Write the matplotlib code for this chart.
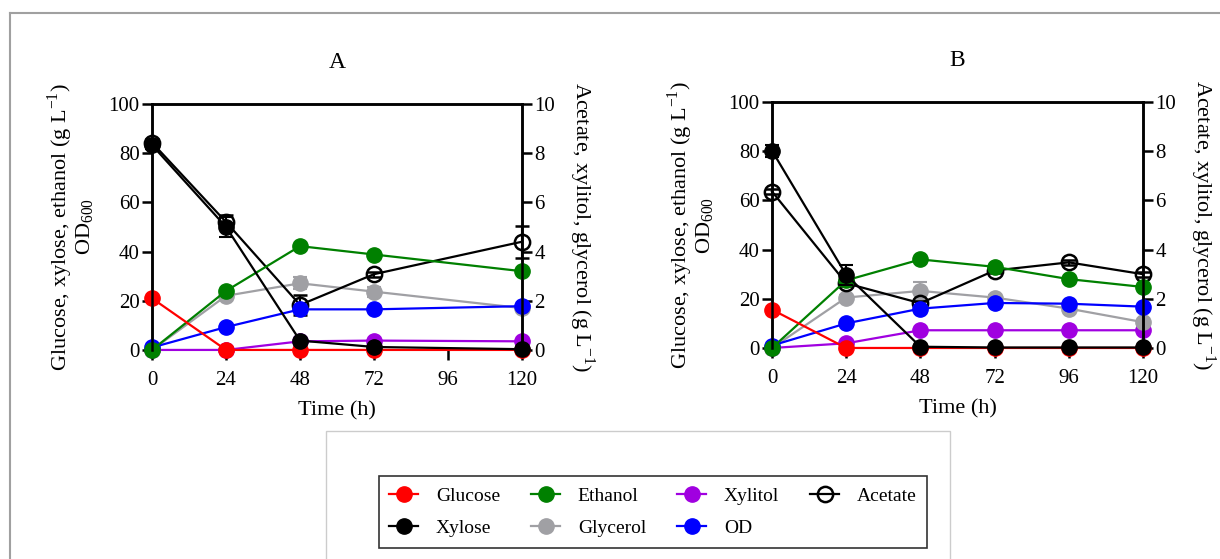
import numpy as np
import matplotlib.pyplot as plt
from matplotlib.lines import Line2D
from matplotlib.patches import Rectangle

plt.rcParams['font.family'] = ['Liberation Serif', 'DejaVu Serif']
plt.rcParams['mathtext.fontset'] = 'custom'
plt.rcParams['mathtext.rm'] = 'Liberation Serif'

# panel A (no sample at 96 h)
time_a = [0, 24, 48, 72, 120]
glucose_a = [21.0, 0.0, 0.0, 0.0, 0.0]
xylose_a = [83.3, 50.0, 3.8, 1.2, 0.3]
xylose_a_err = [1.5, 4.0, 0.5, 0.3, 0.2]
ethanol_a = [0.0, 24.0, 42.2, 38.8, 32.0]
od_a = [1.0, 9.3, 16.5, 16.5, 17.8]
acetate_a = [8.43, 5.2, 1.83, 3.08, 4.4]
acetate_a_err = [0.15, 0.3, 0.4, 0.1, 0.65]
glycerol_a = [0.0, 2.2, 2.71, 2.37, 1.7]
glycerol_a_err = [0.0, 0.1, 0.25, 0.2, 0.05]
xylitol_a = [0.0, 0.0, 0.35, 0.38, 0.35]

# panel B
time_b = [0, 24, 48, 72, 96, 120]
glucose_b = [15.6, 0.0, 0.0, 0.0, 0.0, 0.0]
xylose_b = [80.2, 29.7, 0.5, 0.2, 0.2, 0.2]
xylose_b_err = [2.5, 4.0, 0.3, 0.1, 0.1, 0.1]
ethanol_b = [0.0, 27.5, 36.0, 33.0, 28.0, 24.8]
od_b = [1.0, 10.0, 16.0, 18.3, 18.0, 16.8]
acetate_b = [6.36, 2.63, 1.82, 3.15, 3.48, 3.0]
acetate_b_err = [0.1, 0.1, 0.1, 0.1, 0.1, 0.1]
glycerol_b = [0.0, 2.05, 2.32, 2.05, 1.6, 1.05]
glycerol_b_err = [0.0, 0.1, 0.35, 0.1, 0.1, 0.05]
xylitol_b = [0.0, 0.19, 0.72, 0.72, 0.72, 0.72]

c_glu = '#ff0000'
c_xyl = '#000000'
c_eth = '#008000'
c_gly = '#a0a0a4'
c_xol = '#a000e0'
c_od = '#0000ff'

fig = plt.figure(figsize=(12.2, 5.59), dpi=100)

ms = 11
lw = 1.6


def panel(rect, title, t, glu, xyl, xyl_err, eth, od, ace, ace_err, gly, gly_err, xol):
    ax = fig.add_axes(rect)
    ax2 = ax.twinx()
    ax.set_zorder(ax2.get_zorder() + 1)
    ax.patch.set_visible(False)

    kw = dict(marker='o', ms=ms, lw=lw, clip_on=False)
    ekw = dict(capsize=5, elinewidth=1.5, capthick=1.5)
    # right axis series
    ax2.errorbar(t, gly, yerr=gly_err, color=c_gly, **kw, **ekw)
    ax2.plot(t, xol, color=c_xol, **kw)
    ax2.errorbar(t, ace, yerr=ace_err, color='black', mfc='none', mew=1.8, **kw, **ekw)
    # left axis series
    ax.plot(t, od, color=c_od, **kw)
    ax.plot(t, eth, color=c_eth, **kw)
    ax.errorbar(t, xyl, yerr=xyl_err, color=c_xyl, **kw, **ekw)
    ax.plot(t, glu, color=c_glu, **kw)

    ax.set_xlim(0, 120)
    ax.set_ylim(0, 100)
    ax2.set_ylim(0, 10)
    ax.set_xticks([0, 24, 48, 72, 96, 120])
    ax.set_yticks([0, 20, 40, 60, 80, 100])
    ax2.set_yticks([0, 2, 4, 6, 8, 10])
    for a in (ax, ax2):
        for s in a.spines.values():
            s.set_linewidth(1.8)
        a.spines['bottom'].set_visible(False)
        a.tick_params(labelsize=15, width=1.8, length=7, pad=2)
    ax.tick_params(axis='x', pad=8)
    ax.set_title(title, fontsize=17, pad=26)
    ax.set_xlabel('Time (h)', fontsize=16, labelpad=8)
    ax.set_ylabel('Glucose, xylose, ethanol (g L$^{-1}$)\nOD$_{600}$', fontsize=16,
                  linespacing=0.95, labelpad=9)
    ax2.set_ylabel('Acetate, xylitol, glycerol (g L$^{-1}$)', fontsize=16,
                   rotation=270, labelpad=30)
    return ax


panel([0.1246, 0.374, 0.3033, 0.440], 'A', time_a, glucose_a, xylose_a, xylose_a_err,
      ethanol_a, od_a, acetate_a, acetate_a_err, glycerol_a, glycerol_a_err, xylitol_a)
panel([0.6328, 0.3775, 0.3041, 0.440], 'B', time_b, glucose_b, xylose_b, xylose_b_err,
      ethanol_b, od_b, acetate_b, acetate_b_err, glycerol_b, glycerol_b_err, xylitol_b)

# legend
lkw = dict(marker='o', ms=ms, lw=lw)
handles = [
    Line2D([], [], color=c_glu, **lkw),
    Line2D([], [], color=c_xyl, **lkw),
    Line2D([], [], color=c_eth, **lkw),
    Line2D([], [], color=c_gly, **lkw),
    Line2D([], [], color=c_xol, **lkw),
    Line2D([], [], color=c_od, **lkw),
    Line2D([], [], color='black', mfc='none', mew=1.8, **lkw),
]
labels = ['Glucose', 'Xylose', 'Ethanol', 'Glycerol', 'Xylitol', 'OD', 'Acetate']
leg = fig.legend(handles, labels, ncol=4, loc='center', bbox_to_anchor=(0.5352, 0.0841),
                 fontsize=14, frameon=True, fancybox=False, edgecolor='black',
                 handlelength=1.5, handletextpad=0.9, columnspacing=1.6,
                 labelspacing=0.75, borderpad=0.55, borderaxespad=0)
leg.get_frame().set_linewidth(1.2)

# outer grey frames
fig.add_artist(Line2D([10 / 1220, 1.0], [1 - 13 / 559] * 2, color='#a0a0a0', lw=1.5))
fig.add_artist(Line2D([10 / 1220] * 2, [0, 1 - 13 / 559], color='#a0a0a0', lw=1.5))
fig.add_artist(Rectangle((326 / 1220, -0.05), (950 - 326) / 1220, 0.05 + 1 - 431 / 559,
                         transform=fig.transFigure, fill=False, edgecolor='#cccccc', lw=1.0))

fig.savefig('out.png', dpi=100)
